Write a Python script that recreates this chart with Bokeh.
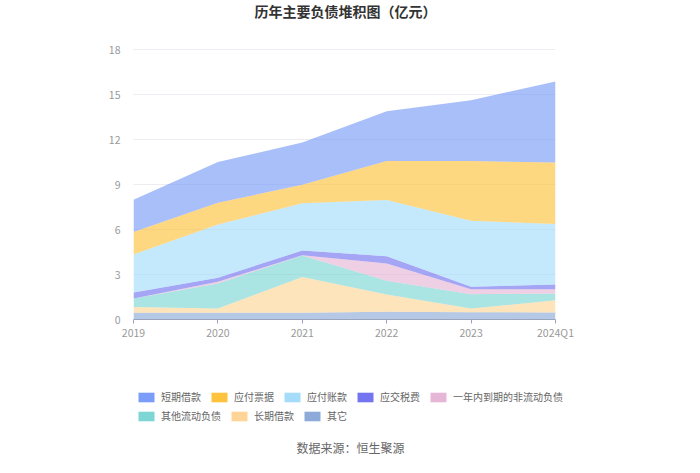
from bokeh.plotting import figure
from bokeh.layouts import column
from bokeh.models import (ColumnDataSource, Range1d, FixedTicker, Legend, LegendItem, Label)
from bokeh.embed import file_html
from bokeh.resources import INLINE

x_labels = ["2019", "2020", "2021", "2022", "2023", "2024Q1"]
other = [0.45, 0.45, 0.45, 0.51, 0.49, 0.47]
long_loan = [0.39, 0.28, 2.39, 1.16, 0.24, 0.82]
other_current = [0.56, 1.67, 1.43, 0.91, 0.96, 0.44]
due_in_year = [0.0, 0.11, 0.02, 1.15, 0.33, 0.29]
tax_payable = [0.40, 0.27, 0.31, 0.49, 0.16, 0.31]
accounts_payable = [2.53, 3.55, 3.15, 3.74, 4.40, 4.03]
notes_payable = [1.51, 1.45, 1.23, 2.60, 3.98, 4.11]
short_loan = [2.14, 2.72, 2.82, 3.33, 4.06, 5.40]

y_ticks = [0, 3, 6, 9, 12, 15, 18]

names = ["其它", "长期借款", "其他流动负债", "一年内到期的非流动负债", "应交税费", "应付账款", "应付票据", "短期借款"]
series = [other, long_loan, other_current, due_in_year, tax_payable, accounts_payable, notes_payable, short_loan]
colors = ["#8eaad9", "#fed597", "#7dd5d4", "#e6b6d6", "#7474f0", "#a5dcfa", "#fdc23e", "#7b9cf8"]

FONT = "Noto Sans CJK SC"

data = {"x": list(range(len(x_labels)))}
for n, s in zip(names, series):
    data[n] = s
src = ColumnDataSource(data)

# main chart: frame runs from canvas top (y=0) down to the x axis at y=319
W = 684
H1 = 345
GRID_TOP, GRID_BOTTOM = 49, 319
y_end = y_ticks[-1] * GRID_BOTTOM / (GRID_BOTTOM - GRID_TOP)

p = figure(width=W, height=H1, output_backend="svg", toolbar_location=None,
           x_range=Range1d(0, len(x_labels) - 1), y_range=Range1d(0, y_end),
           min_border_left=133, min_border_right=129, min_border_top=0,
           min_border_bottom=H1 - GRID_BOTTOM)
p.frame_align = False
p.outline_line_color = None
p.background_fill_color = "white"
p.border_fill_color = "white"

p.varea_stack(stackers=names, x="x", color=colors, fill_alpha=0.65, source=src)

p.xaxis.ticker = FixedTicker(ticks=list(range(len(x_labels))))
p.xaxis.major_label_overrides = {i: l for i, l in enumerate(x_labels)}
p.xaxis.axis_line_color = "#9aa5bd"
p.xaxis.major_tick_line_color = "#9aa5bd"
p.xaxis.major_tick_out = 4
p.xaxis.major_tick_in = 0
p.xaxis.minor_tick_line_color = None
p.xaxis.major_label_text_color = "#999999"
p.xaxis.major_label_text_font = FONT
p.xaxis.major_label_text_font_size = "10.5px"
p.xaxis.major_label_standoff = 1

p.yaxis.ticker = FixedTicker(ticks=y_ticks)
p.yaxis.axis_line_color = None
p.yaxis.major_tick_line_color = None
p.yaxis.minor_tick_line_color = None
p.yaxis.major_label_text_color = "#999999"
p.yaxis.major_label_text_font = FONT
p.yaxis.major_label_text_font_size = "10.5px"
p.yaxis.major_label_standoff = 7

p.xgrid.grid_line_color = None
p.ygrid.grid_line_color = "#ececf2"
p.ygrid.ticker = FixedTicker(ticks=y_ticks)

p.add_layout(Label(x=345 - 133, y=GRID_BOTTOM - 10, x_units="screen", y_units="screen",
                   text="历年主要负债堆积图（亿元）", text_font=FONT, text_font_size="14px",
                   text_font_style="bold", text_color="#333333",
                   text_align="center", text_baseline="middle"))

# legend + source strip (its own frame fills the whole strip)
H2 = 457 - H1
q = figure(width=W, height=H2, output_backend="svg", toolbar_location=None,
           x_range=Range1d(-20, -10), y_range=Range1d(-20, -10),
           x_axis_location=None, y_axis_location=None,
           min_border_left=0, min_border_right=0, min_border_top=0, min_border_bottom=0)
q.frame_align = False
q.outline_line_color = None
q.grid.visible = False
q.background_fill_color = "white"
q.border_fill_color = "white"

# legend swatches: solid-colour copies of the series, kept outside the strip's visible range
proxies = {}
for n, c in zip(names, colors):
    proxies[n] = q.varea(x="x", y1=0, y2=n, source=src, fill_color=c, fill_alpha=1.0)

row1 = ["短期借款", "应付票据", "应付账款", "应交税费", "一年内到期的非流动负债"]
row2 = ["其他流动负债", "长期借款", "其它"]

def make_legend(items, loc):
    return Legend(items=[LegendItem(label=n, renderers=[proxies[n]]) for n in items],
                  location=loc, orientation="horizontal", glyph_width=20, glyph_height=12,
                  label_standoff=5, spacing=8, padding=0, margin=0,
                  border_line_alpha=0, background_fill_alpha=0,
                  label_text_font=FONT, label_text_font_size="10px", label_text_color="#666666",
                  label_height=12)

top1 = 392 - H1
top2 = 411 - H1
q.add_layout(make_legend(row1, (136, H2 - top1 - 12)), "center")
q.add_layout(make_legend(row2, (136, H2 - top2 - 12)), "center")

q.add_layout(Label(x=350, y=H2 - (447 - H1), x_units="screen", y_units="screen",
                   text="数据来源：恒生聚源", text_font=FONT, text_font_size="12px",
                   text_color="#666666", text_align="center", text_baseline="middle"))

layout = column(p, q, spacing=0)
open("out.html", "w").write(file_html(layout, INLINE))
